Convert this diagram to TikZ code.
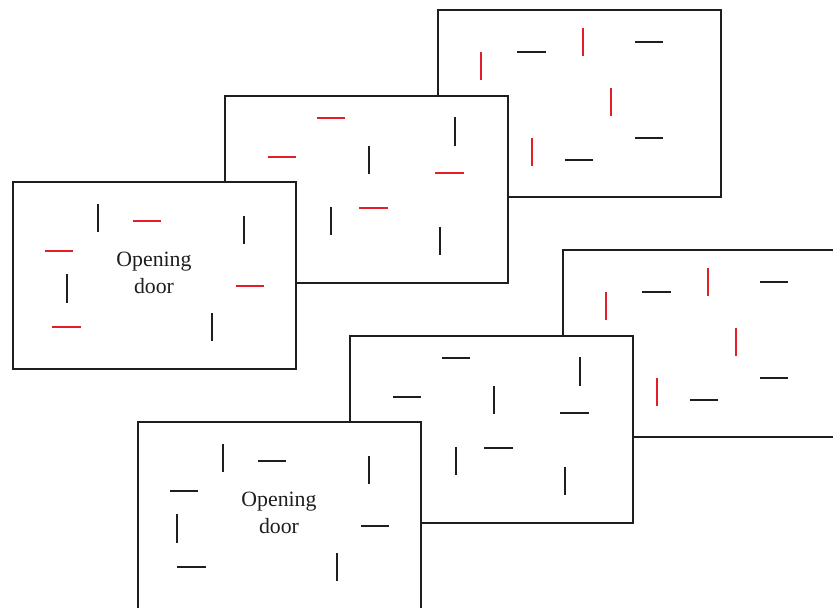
\documentclass[tikz,border=0pt]{standalone}
\usepackage{fontspec}
\setmainfont{Liberation Serif}
\definecolor{wallred}{RGB}{226,30,38}
\definecolor{ink}{RGB}{30,30,30}
\tikzset{
  panel/.style={draw=ink, line width=1.3pt, fill=white, minimum width=283pt,
    minimum height=187pt, inner sep=0pt, outer sep=0pt, anchor=north west},
  seg/.style={line width=1.2pt, line cap=butt},
  roomlabel/.style={font=\fontsize{21.8}{27}\selectfont, align=center, text=ink, inner sep=0pt},
}
% #1 name suffix, #2 colour of back-panel marks, #3 colour of middle/front marks,
% #4 x of the left vertical mark in the front panel
\newcommand\roomset[4]{%
  % back panel
  \node[panel] (a#1) at (438,10) {};
  \draw[seg,#2]  (481,52) -- (481,80);
  \draw[seg,ink] (517,52) -- (546,52);
  \draw[seg,#2]  (583,28) -- (583,56);
  \draw[seg,ink] (635,42) -- (663,42);
  \draw[seg,#2]  (611,88) -- (611,116);
  \draw[seg,ink] (635,138) -- (663,138);
  \draw[seg,#2]  (532,138) -- (532,166);
  \draw[seg,ink] (565,160) -- (593,160);
  % middle panel
  \node[panel] (b#1) at (225,96) {};
  \draw[seg,#3]  (317,118) -- (345,118);
  \draw[seg,#3]  (268,157) -- (296,157);
  \draw[seg,ink] (369,146) -- (369,174);
  \draw[seg,ink] (455,117) -- (455,146);
  \draw[seg,#3]  (435,173) -- (464,173);
  \draw[seg,ink] (331,207) -- (331,235);
  \draw[seg,#3]  (359,208) -- (388,208);
  \draw[seg,ink] (440,227) -- (440,255);
  % front panel
  \node[panel] (c#1) at (13,182) {};
  \draw[seg,ink] (98,204) -- (98,232);
  \draw[seg,#3]  (133,221) -- (161,221);
  \draw[seg,ink] (244,216) -- (244,244);
  \draw[seg,#3]  (45,251) -- (73,251);
  \draw[seg,ink] (#4,274) -- (#4,303);
  \draw[seg,#3]  (236,286) -- (264,286);
  \draw[seg,#3]  (52,327) -- (81,327);
  \draw[seg,ink] (212,313) -- (212,341);
  \node[roomlabel] (t#1) at (154,273) {Opening\\door};
}
\begin{document}
\begin{tikzpicture}[x=1pt,y=-1pt]
  \useasboundingbox (0,0) rectangle (833,609);
  \fill[white] (0,0) rectangle (833,609);
  \clip (0,0) rectangle (833,607.2);
  \roomset{1}{wallred}{wallred}{67}
  \begin{scope}[shift={(125,240)}]
    \roomset{2}{wallred}{ink}{52}
  \end{scope}
\end{tikzpicture}
\end{document}
